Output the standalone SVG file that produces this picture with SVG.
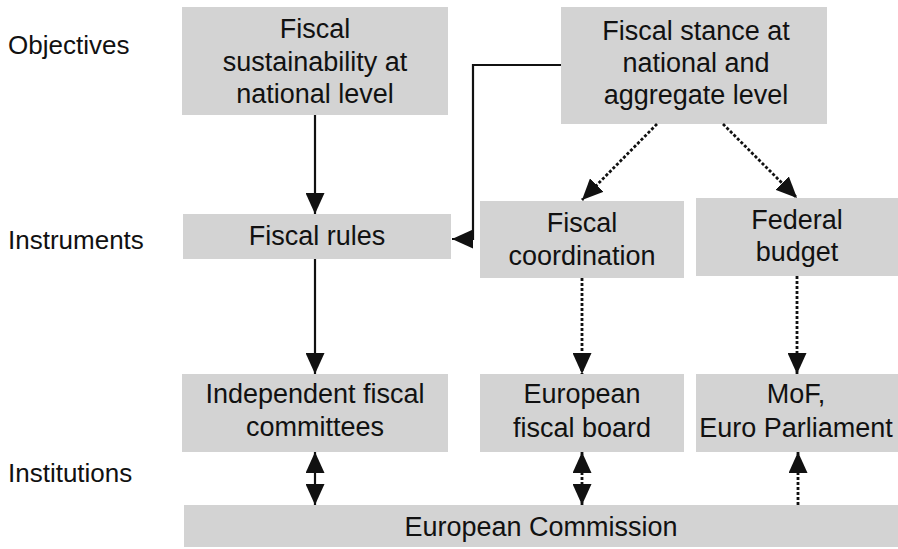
<svg xmlns="http://www.w3.org/2000/svg" width="898" height="549" viewBox="0 0 898 549">
  <style>
    .box { fill: #d3d3d3; stroke: none; }
    .t { font-family: "Liberation Sans", Arial, sans-serif; font-size: 27px; fill: #111; text-anchor: middle; }
    .lbl { font-family: "Liberation Sans", Arial, sans-serif; font-size: 26px; fill: #111; }
    .solid { fill: none; stroke: #111; stroke-width: 2.2; }
    .dot { fill: none; stroke: #111; stroke-width: 2.8; stroke-dasharray: 3 2; }
  </style>
  <defs>
    <marker id="ah" viewBox="0 0 21 19" refX="21" refY="9.5" markerWidth="21" markerHeight="19" orient="auto-start-reverse" markerUnits="userSpaceOnUse">
      <path d="M0,0 L21,9.5 L0,19 z" style="fill:#111;stroke:none"/>
    </marker>
  </defs>
  <rect width="898" height="549" fill="#ffffff"/>

  <g id="labels">
    <text class="lbl" x="8" y="54">Objectives</text>
    <text class="lbl" x="8" y="249">Instruments</text>
    <text class="lbl" x="8" y="482">Institutions</text>
  </g>

  <g id="n-sustainability">
    <rect class="box" x="182" y="7" width="266" height="108"/>
    <text class="t" x="315" y="38">Fiscal</text>
    <text class="t" x="315" y="71">sustainability at</text>
    <text class="t" x="315" y="103">national level</text>
  </g>
  <g id="n-stance">
    <rect class="box" x="561" y="7" width="266" height="117"/>
    <text class="t" x="696" y="40">Fiscal stance at</text>
    <text class="t" x="696" y="72">national and</text>
    <text class="t" x="696" y="104">aggregate level</text>
  </g>
  <g id="n-rules">
    <rect class="box" x="183" y="214" width="268" height="45"/>
    <text class="t" x="317" y="245">Fiscal rules</text>
  </g>
  <g id="n-coordination">
    <rect class="box" x="480" y="201" width="204" height="77"/>
    <text class="t" x="582" y="232">Fiscal</text>
    <text class="t" x="582" y="265">coordination</text>
  </g>
  <g id="n-federal">
    <rect class="box" x="696" y="198" width="202" height="78"/>
    <text class="t" x="797" y="229">Federal</text>
    <text class="t" x="797" y="261">budget</text>
  </g>
  <g id="n-ifc">
    <rect class="box" x="182" y="374" width="266" height="78"/>
    <text class="t" x="315" y="403">Independent fiscal</text>
    <text class="t" x="315" y="436">committees</text>
  </g>
  <g id="n-efb">
    <rect class="box" x="480" y="374" width="204" height="78"/>
    <text class="t" x="582" y="403">European</text>
    <text class="t" x="582" y="437">fiscal board</text>
  </g>
  <g id="n-mof">
    <rect class="box" x="696" y="374" width="202" height="78"/>
    <text class="t" x="796" y="403">MoF,</text>
    <text class="t" x="796" y="437">Euro Parliament</text>
  </g>
  <g id="n-ec">
    <rect class="box" x="184" y="505" width="714" height="42"/>
    <text class="t" x="541" y="536">European Commission</text>
  </g>

  <g id="connectors">
    <line class="solid" x1="315" y1="115" x2="315" y2="214" marker-end="url(#ah)"/>
    <polyline class="solid" points="561,65 473,65 473,239 452,239" marker-end="url(#ah)"/>
    <line class="dot" x1="657" y1="124" x2="582" y2="200" marker-end="url(#ah)"/>
    <line class="dot" x1="723" y1="124" x2="797" y2="198" marker-end="url(#ah)"/>
    <line class="solid" x1="315" y1="259" x2="315" y2="374" marker-end="url(#ah)"/>
    <line class="dot" x1="582" y1="278" x2="582" y2="374" marker-end="url(#ah)"/>
    <line class="dot" x1="797" y1="276" x2="797" y2="374" marker-end="url(#ah)"/>
    <line class="solid" x1="315" y1="452" x2="315" y2="505" marker-start="url(#ah)" marker-end="url(#ah)"/>
    <line class="dot" x1="582" y1="452" x2="582" y2="505" marker-start="url(#ah)" marker-end="url(#ah)"/>
    <line class="dot" x1="798" y1="505" x2="798" y2="452" marker-end="url(#ah)"/>
  </g>
</svg>
